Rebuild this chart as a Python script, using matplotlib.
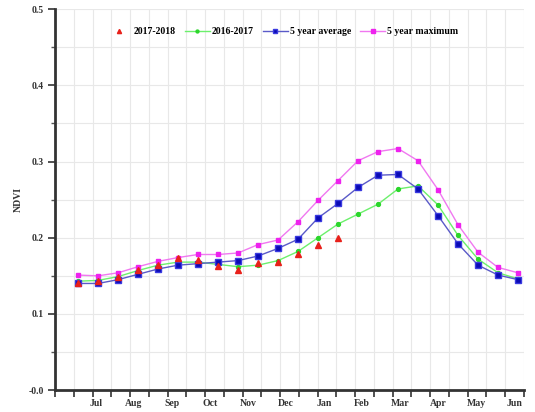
import numpy as np
import matplotlib
matplotlib.use("Agg")
import matplotlib.pyplot as plt

# NDVI values, one per period
ndvi_1718 = [0.141, 0.143, 0.148, 0.157, 0.164, 0.173, 0.171, 0.163, 0.157, 0.167,
             0.168, 0.178, 0.191, 0.199]
ndvi_1617 = [0.143, 0.144, 0.149, 0.157, 0.164, 0.168, 0.168, 0.165, 0.162, 0.164,
             0.170, 0.182, 0.200, 0.218, 0.231, 0.244, 0.264, 0.268, 0.243, 0.203,
             0.172, 0.154, 0.146]
ndvi_avg = [0.140, 0.140, 0.145, 0.152, 0.159, 0.164, 0.166, 0.168, 0.170, 0.176,
            0.186, 0.198, 0.226, 0.245, 0.266, 0.282, 0.283, 0.264, 0.229, 0.192,
            0.164, 0.151, 0.145]
ndvi_max = [0.151, 0.150, 0.154, 0.162, 0.169, 0.174, 0.178, 0.178, 0.180, 0.191,
            0.197, 0.221, 0.249, 0.275, 0.301, 0.313, 0.317, 0.301, 0.263, 0.217,
            0.181, 0.161, 0.154]
months = ["Jul", "Aug", "Sep", "Oct", "Nov", "Dec", "Jan", "Feb", "Mar", "Apr", "May", "Jun"]

font = "Liberation Serif"
plt.rcParams["font.family"] = [font, "DejaVu Serif"]
plt.rcParams["font.weight"] = "bold"

fig = plt.figure(figsize=(5.35, 4.12), dpi=100)
ax = fig.add_axes([0.103, 0.053, 0.876, 0.925])

x = np.arange(len(ndvi_avg))
# axis spans a little more than the periods; tick grid is finer than the data
x0, step = -1.15, 0.9375
ticks = x0 + step * np.arange(26)
ax.set_xlim(x0, x0 + step * 25)
ax.set_ylim(0, 0.5)

ax.plot(x[:len(ndvi_1718)], ndvi_1718, ls="none", marker="^", ms=4,
        color="#e8201a", label="2017-2018", zorder=5)
ax.plot(x, ndvi_1617, color="#6cf06c", lw=1, marker="o", ms=2.8,
        mfc="#2bd62b", mec="#2bd62b", label="2016-2017", zorder=3)
ax.plot(x, ndvi_avg, color="#5a5ac8", lw=1, marker="s", ms=4.2,
        mfc="#0a0ab4", mec="#3a3ae0", label="5 year average", zorder=4)
ax.plot(x, ndvi_max, color="#f078f0", lw=1, marker="s", ms=3.2,
        mfc="#ee22ee", mec="#ee22ee", label="5 year maximum", zorder=3)

ax.set_xticks(ticks)
ax.set_xticklabels([""] * len(ticks))
for i, m in enumerate(months):
    ax.text(ticks[2 + 2 * i] + 0.15 + 0.03 * i, -0.012, m, ha="center", va="top",
            fontsize=7, fontweight="bold", color="#333333")

ax.set_yticks(np.arange(0, 0.51, 0.1))
ax.set_yticklabels(["-0.0", "0.1", "0.2", "0.3", "0.4", "0.5"])
ax.set_yticks(np.arange(0.05, 0.5, 0.1), minor=True)
ax.tick_params(axis="y", which="major", length=5, width=1.2, labelsize=7,
               colors="#333333", pad=3)
ax.tick_params(axis="y", which="minor", length=3, width=1, colors="#555555")
ax.tick_params(axis="x", length=5, width=1.2, colors="#333333")

ax.grid(True, which="both", color="#e8e8e8", lw=0.8)
ax.set_axisbelow(True)
for s in ["top", "right"]:
    ax.spines[s].set_visible(False)
for s in ["left", "bottom"]:
    ax.spines[s].set_linewidth(2)
    ax.spines[s].set_color("#333333")

ax.set_ylabel("NDVI", fontsize=7, fontweight="bold", color="#333333", labelpad=4)

ax.legend(loc="upper center", bbox_to_anchor=(0.485, 0.975), ncol=4, frameon=False,
          handlelength=2.6, handletextpad=0.2, columnspacing=0.9, markerscale=0.75,
          prop={"weight": "bold", "size": 7})

fig.savefig("out.png", dpi=100)
